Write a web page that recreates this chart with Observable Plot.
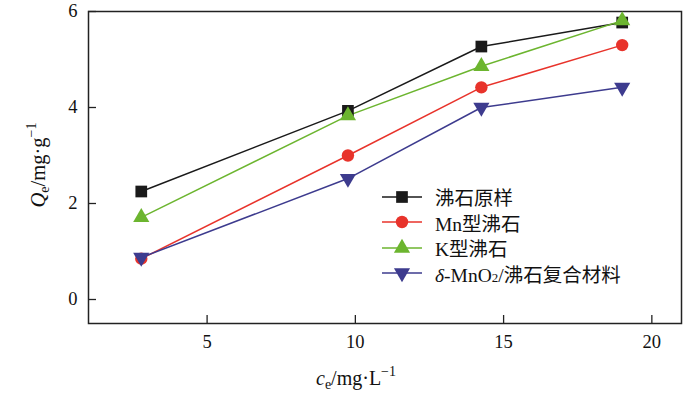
<!DOCTYPE html>
<html><head><meta charset="utf-8">
<script src="https://cdn.jsdelivr.net/npm/d3@7"></script>
<script src="https://cdn.jsdelivr.net/npm/@observablehq/plot@0.6"></script>
<style>
body{margin:0;background:#fff}
#c{position:relative;width:700px;height:393px;font-family:"Liberation Serif","Noto Sans CJK SC",serif}
#legend{position:absolute;left:380px;top:184px;font-size:19.5px;color:#111}
.row{display:flex;align-items:center;height:25.5px}
.row svg{margin-right:11px}
</style>
</head><body><div id="c"></div>
<script>
const ce = [2.78, 9.75, 14.25, 19.0];
const names = ["沸石原样", "Mn型沸石", "K型沸石", "δ-MnO2/沸石复合材料"];
const qRaw = [2.25, 3.93, 5.27, 5.77];
const qMn = [0.85, 3.0, 4.42, 5.3];
const qK = [1.71, 3.83, 4.86, 5.81];
const qComp = [0.875, 2.52, 4.0, 4.42];
const colors = ["#1a1a1a", "#e8332b", "#6cb52f", "#3d3b8e"];
const symbols = ["square", "circle", "triangle", "triangle"];
const rotations = [0, 0, 0, 180];
const radii = [6.6, 6.2, 6.0, 6.0];
const xTicks = [5, 10, 15, 20];
const yTicks = [0, 2, 4, 6];

const allSeries = [qRaw, qMn, qK, qComp];
const data = [];
allSeries.forEach((vals, s) => vals.forEach((v, i) => data.push({s, x: ce[i], y: v})));

const marks = [Plot.frame({stroke: "#222", strokeWidth: 1.5})];
allSeries.forEach((vals, s) => {
  const d = data.filter(p => p.s === s);
  marks.push(Plot.line(d, {x: "x", y: "y", stroke: colors[s], strokeWidth: 1.5}));
});
allSeries.forEach((vals, s) => {
  const d = data.filter(p => p.s === s);
  marks.push(Plot.dot(d, {x: "x", y: "y", symbol: () => symbols[s], r: radii[s], fill: colors[s], stroke: "none", rotate: rotations[s]}));
});
marks.push(Plot.axisX(xTicks, {tickSize: -8, tickPadding: 19, fontSize: 18.5, label: null, stroke: "#222", strokeWidth: 1.3, fill: "#111"}));
marks.push(Plot.axisY(yTicks, {tickSize: -8, tickPadding: 19, fontSize: 18.5, label: null, stroke: "#222", strokeWidth: 1.3, fill: "#111"}));

const plot = Plot.plot({
  width: 700, height: 393,
  marginLeft: 88, marginRight: 19, marginTop: 11, marginBottom: 70,
  x: {domain: [1, 21]},
  y: {domain: [-0.5, 6]},
  style: {fontFamily: '"Liberation Serif","Noto Sans CJK SC",serif', background: "#fff", overflow: "visible"},
  marks
});
document.getElementById("c").appendChild(plot);

const svg = d3.select(plot);
// y label
const yl = svg.append("text").attr("transform", "translate(45,165) rotate(-90)")
  .attr("text-anchor", "middle").attr("font-size", 20.5).attr("fill", "#111");
yl.append("tspan").attr("font-style", "italic").text("Q");
yl.append("tspan").attr("font-size", 14).attr("dy", 4).text("e");
yl.append("tspan").attr("dy", -4).text("/mg·g");
yl.append("tspan").attr("font-size", 14).attr("dy", -9).text("−1");
// x label
const xl = svg.append("text").attr("transform", "translate(356,385)")
  .attr("text-anchor", "middle").attr("font-size", 20).attr("fill", "#111");
xl.append("tspan").attr("font-style", "italic").text("c");
xl.append("tspan").attr("font-size", 14).attr("dy", 4).text("e");
xl.append("tspan").attr("dy", -4).text("/mg·L");
xl.append("tspan").attr("font-size", 14).attr("dy", -9).text("−1");

// legend
const lg = document.createElement("div");
lg.id = "legend";
names.forEach((n, s) => {
  const row = document.createElement("div");
  row.className = "row";
  const sym = d3.symbol(d3["symbol" + symbols[s][0].toUpperCase() + symbols[s].slice(1)], Math.PI * radii[s] * radii[s])();
  row.innerHTML = `<svg width="44" height="20"><line x1="2" x2="42" y1="10" y2="10" stroke="${colors[s]}" stroke-width="1.5"/><path d="${sym}" transform="translate(22,10) rotate(${rotations[s]})" fill="${colors[s]}"/></svg>`;
  const label = document.createElement("span");
  if (s === 3) {
    label.innerHTML = `<i>δ</i>-MnO<span style="font-size:13px">2</span>/沸石复合材料`;
  } else label.textContent = n;
  row.appendChild(label);
  lg.appendChild(row);
});
document.getElementById("c").appendChild(lg);
</script>
</body></html>
